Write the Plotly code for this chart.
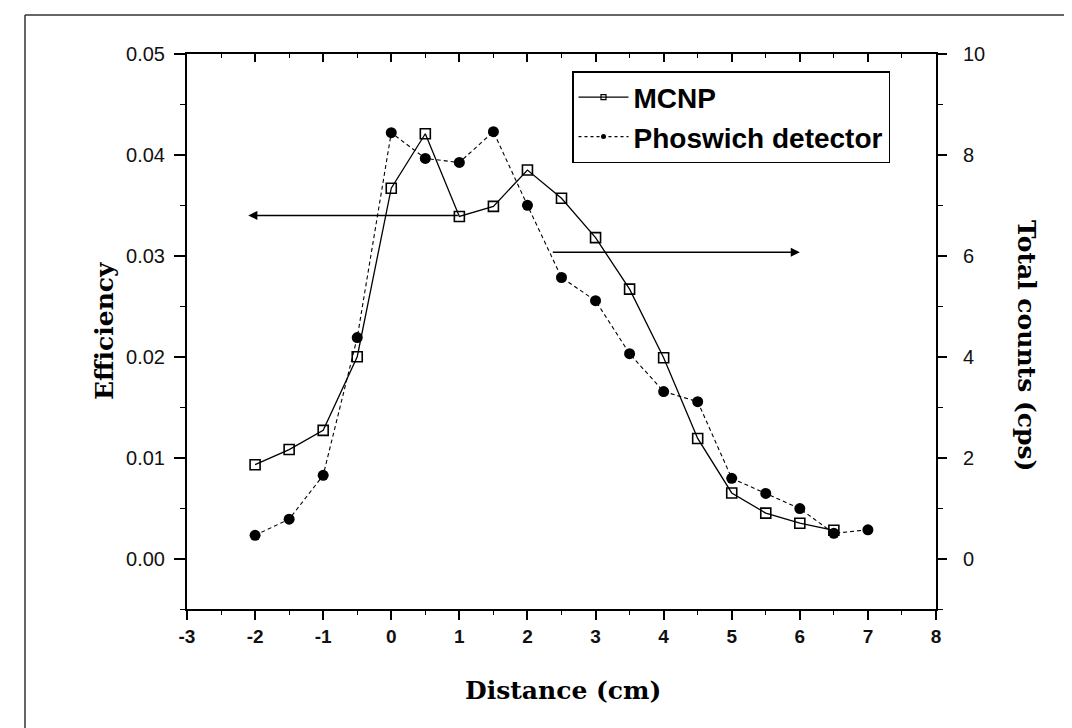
import plotly.graph_objects as go

# ---- data ----
mcnp_distance = [-2, -1.5, -1, -0.5, 0, 0.5, 1, 1.5, 2, 2.5, 3, 3.5, 4, 4.5, 5, 5.5, 6, 6.5]
mcnp_efficiency = [0.0093, 0.0108, 0.0127, 0.0200, 0.0367, 0.0421, 0.0339, 0.0349, 0.0385,
                   0.0357, 0.0318, 0.0267, 0.0199, 0.0119, 0.0065, 0.0045, 0.0035, 0.0028]

phos_distance = [-2, -1.5, -1, -0.5, 0, 0.5, 1, 1.5, 2, 2.5, 3, 3.5, 4, 4.5, 5, 5.5, 6, 6.5, 7]
phos_counts = [0.46, 0.78, 1.65, 4.38, 8.44, 7.93, 7.85, 8.46, 7.00, 5.57, 5.11, 4.06, 3.31,
               3.11, 1.59, 1.29, 0.99, 0.50, 0.57]

x_tick_vals = [-3, -2, -1, 0, 1, 2, 3, 4, 5, 6, 7, 8]
x_tick_text = ["-3", "-2", "-1", "0", "1", "2", "3", "4", "5", "6", "7", "8"]
y_tick_vals = [0.00, 0.01, 0.02, 0.03, 0.04, 0.05]
y_tick_text = ["0.00", "0.01", "0.02", "0.03", "0.04", "0.05"]
y2_tick_vals = [0, 2, 4, 6, 8, 10]

# ---- layout geometry (pixels, page coordinates; page has an 8px body offset) ----
OFF = 8
W, H = 1072 - OFF, 728 - OFF
PL, PR, PT, PB = 187, 936, 54, 609   # plot area in page pixels
L, R, T, B = PL - OFF, (W + OFF) - PR, PT - OFF, (H + OFF) - PB
PW, PH = PR - PL, PB - PT


def px(x):
    return (x - PL) / PW


def py(y):
    return (PB - y) / PH


fig = go.Figure()

fig.add_trace(go.Scatter(
    x=mcnp_distance, y=mcnp_efficiency, name="MCNP", mode="lines+markers",
    line=dict(color="black", width=1.3),
    marker=dict(symbol="square-open", size=10, color="black", line=dict(width=1.6)),
    showlegend=False,
))
fig.add_trace(go.Scatter(
    x=phos_distance, y=phos_counts, name="Phoswich detector", mode="lines+markers",
    yaxis="y2",
    line=dict(color="black", width=1.1, dash="4px,3px"),
    marker=dict(symbol="circle", size=11, color="black"),
    showlegend=False,
))
# legend entries (small symbols as in the original legend)
fig.add_trace(go.Scatter(
    x=[None], y=[None], name="MCNP", mode="lines+markers",
    line=dict(color="black", width=1.2),
    marker=dict(symbol="square-open", size=5, color="black", line=dict(width=1.2)),
    legendgroup="a",
))
fig.add_trace(go.Scatter(
    x=[None], y=[None], name="Phoswich detector", mode="lines+markers", yaxis="y2",
    line=dict(color="black", width=1.1, dash="3px,3px"),
    marker=dict(symbol="circle", size=5, color="black"),
    legendgroup="b",
))
# helper trace so the top mirror axis is drawn
fig.add_trace(go.Scatter(x=[None], y=[None], xaxis="x2", showlegend=False, hoverinfo="skip"))

tick_font = dict(family="Liberation Sans, Arial", size=20, color="#111")

fig.update_layout(
    width=W, height=H,
    margin=dict(l=L, r=R, t=T, b=B),
    paper_bgcolor="white", plot_bgcolor="white",
    showlegend=True,
    legend=dict(
        x=px(572), y=py(71), xanchor="left", yanchor="top",
        bordercolor="black", borderwidth=1.5, bgcolor="white",
        font=dict(family="Liberation Sans, Arial", size=28, color="black", weight="bold"),
        itemwidth=50, tracegroupgap=0,
        traceorder="grouped",
    ),
    xaxis=dict(
        range=[-3, 8], tickvals=x_tick_vals, ticktext=x_tick_text,
        ticks="outside", ticklen=9, tickwidth=1.5, tickcolor="black",
        minor=dict(dtick=0.5, tick0=0, ticks="outside", ticklen=4, tickwidth=1.2, tickcolor="black"),
        showline=True, linewidth=2, linecolor="black", showgrid=False, zeroline=False,
        tickfont=dict(family="Liberation Sans, Arial", size=19, color="#111", weight="bold"),
    ),
    xaxis2=dict(
        range=[-3, 8], overlaying="x", side="top", anchor="y",
        tickvals=x_tick_vals, showticklabels=False,
        ticks="inside", ticklen=8, tickwidth=1.5, tickcolor="black",
        minor=dict(dtick=0.5, tick0=0, ticks="inside", ticklen=4, tickwidth=1.2, tickcolor="black"),
        showline=True, linewidth=2, linecolor="black", showgrid=False, zeroline=False,
    ),
    yaxis=dict(
        range=[-0.005, 0.05], tickvals=y_tick_vals, ticktext=y_tick_text,
        ticks="outside", ticklen=11, tickwidth=1.5, tickcolor="black",
        minor=dict(dtick=0.005, tick0=0, ticks="outside", ticklen=5, tickwidth=1.2, tickcolor="black"),
        showline=True, linewidth=2, linecolor="black", showgrid=False, zeroline=False,
        tickfont=tick_font, ticklabelstandoff=5,
    ),
    yaxis2=dict(
        range=[-1, 10], overlaying="y", side="right", anchor="x",
        tickvals=y2_tick_vals,
        ticks="outside", ticklen=9, tickwidth=1.5, tickcolor="black",
        minor=dict(dtick=1, tick0=0, ticks="outside", ticklen=5, tickwidth=1.2, tickcolor="black"),
        showline=True, linewidth=2, linecolor="black", showgrid=False, zeroline=False,
        tickfont=tick_font, ticklabelstandoff=12,
    ),
)

title_font = dict(family="DejaVu Serif, Liberation Serif", size=25, color="black", weight="bold")

annotations = [
    dict(text="Efficiency", x=px(104), y=py(331), xref="paper", yref="paper",
         xanchor="center", yanchor="middle",
         textangle=-90, showarrow=False, font=title_font),
    dict(text="Total counts (cps)", x=px(1027), y=py(346), xref="paper", yref="paper",
         xanchor="center", yanchor="middle",
         textangle=90, showarrow=False, font=title_font),
    dict(text="Distance (cm)", x=px(563), y=py(690), xref="paper", yref="paper",
         xanchor="center", yanchor="middle",
         showarrow=False, font=title_font),
    # arrow pointing to left axis (MCNP -> efficiency)
    dict(x=-2.1, y=0.034, ax=1.0, ay=0.034, xref="x", yref="y", axref="x", ayref="y",
         text="", showarrow=True, arrowhead=2, arrowsize=1.3, arrowwidth=1.4, arrowcolor="black"),
    # arrow pointing to right axis (Phoswich -> counts)
    dict(x=6.0, y=6.07, ax=2.35, ay=6.07, xref="x", yref="y2", axref="x", ayref="y2",
         text="", showarrow=True, arrowhead=2, arrowsize=1.3, arrowwidth=1.4, arrowcolor="black"),
]
fig.update_layout(annotations=annotations)

# scanned page border lines
border = dict(color="#333", width=1.5)
fig.update_layout(shapes=[
    dict(type="line", xref="paper", yref="paper", x0=px(25), x1=px(1072), y0=py(15), y1=py(15), line=border),
    dict(type="line", xref="paper", yref="paper", x0=px(25), x1=px(25), y0=py(15), y1=py(728), line=border),
    dict(type="line", xref="paper", yref="paper", x0=px(1070), x1=px(1070), y0=py(15), y1=py(187), line=border),
])

fig.write_html("out.html")
